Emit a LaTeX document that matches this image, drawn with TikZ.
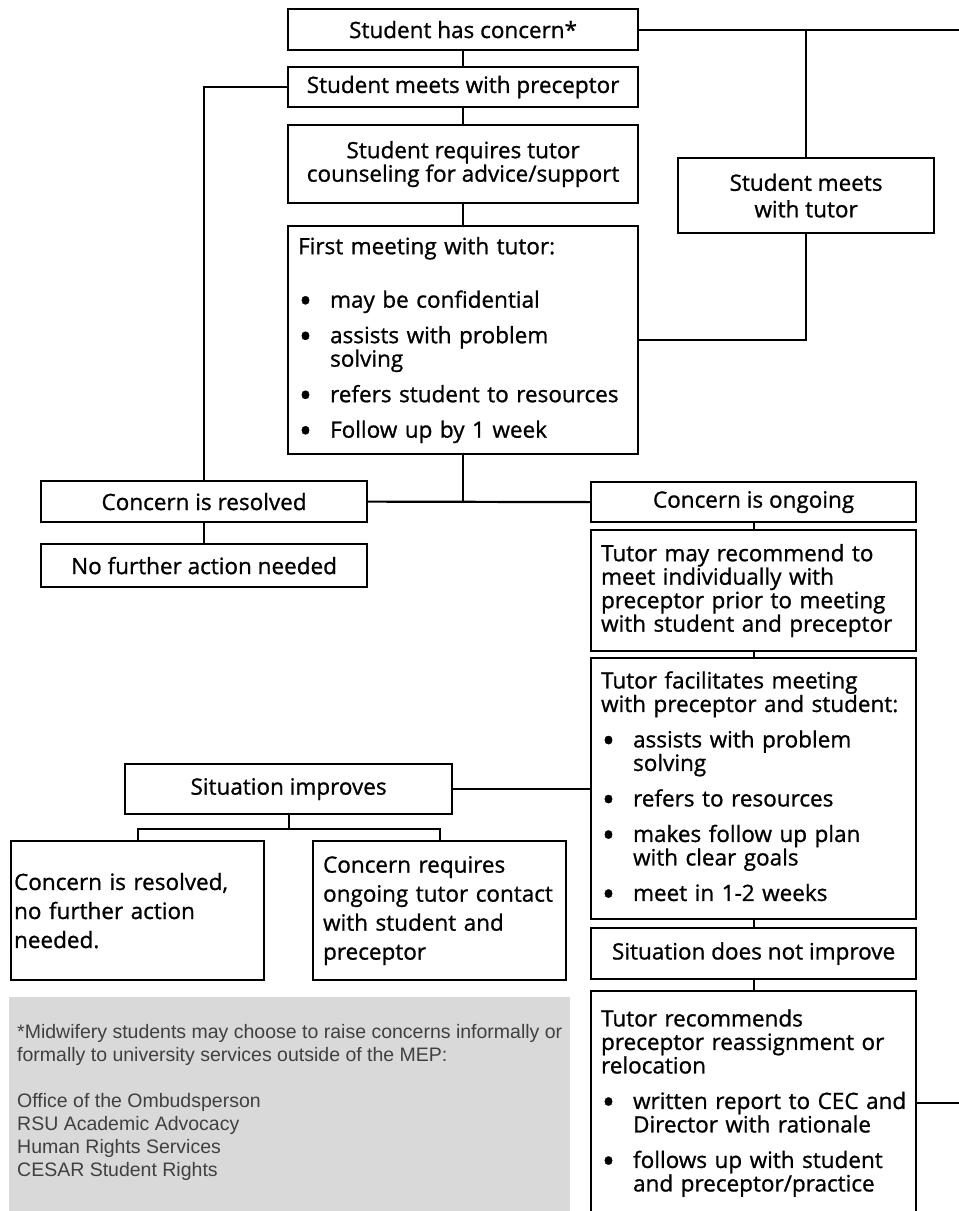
\documentclass[tikz,border=0pt]{standalone}
\usepackage{fontspec}
\setmainfont{Open Sans}[FakeBold=1]
\newfontfamily\notefont{Liberation Sans}
\usetikzlibrary{calc}
\definecolor{notegray}{RGB}{217,217,217}
\newcommand{\bul}[1]{\makebox[32pt][l]{\hspace{1pt}\raisebox{-5pt}{\fontsize{34}{34}\selectfont\textbullet}}\mbox{#1}}
\newcommand{\ind}[1]{\hspace*{32pt}\mbox{#1}}

\begin{document}
\begin{tikzpicture}[x=1pt,y=1pt,yscale=-1,
  font=\fontsize{22.5}{23.5}\selectfont,
  flowbox/.style={draw, line width=2.2pt, inner sep=0pt, align=center},
  leftbox/.style={draw, line width=2.2pt, inner xsep=10pt, inner ysep=0pt, align=left},
  wire/.style={line width=2.2pt},
  notetext/.style={font=\notefont\fontsize{19.5}{23}\selectfont, text=black!75, align=left, inner sep=0pt}]
\useasboundingbox (0,0) rectangle (959,1211);
\clip (0,0) rectangle (959,1211);
\coordinate (rightedge) at (959,0);

%Shape: footnote background
\fill[notegray] (9,997) rectangle (570,1240);
% Text Node
\node[notetext, anchor=north west] (note) at (17,1024) {*Midwifery students may choose to raise concerns informally or\\
formally to university services outside of the MEP:\\[23pt]
Office of the Ombudsperson\\
RSU Academic Advocacy\\
Human Rights Services\\
CESAR Student Rights};

% Boxes, centre column
\node[flowbox, minimum width=350pt, minimum height=41pt, anchor=north west] (concern) at (287,8) {Student has concern*};
\node[flowbox, minimum width=350pt, minimum height=40pt, anchor=north west] (prec) at (287,66) {Student meets with preceptor};
\node[flowbox, minimum width=350pt, minimum height=78pt, anchor=north west] (couns) at (287,124) {Student requires tutor\\counseling for advice/support};
\node[leftbox, text width=330pt, minimum height=228pt, anchor=north west] (first) at (287,225) {First meeting with tutor:\\[30pt]
\bul{may be confidential}\\[12pt]
\bul{assists with problem}\\
\ind{solving}\\[12pt]
\bul{refers student to resources}\\[12pt]
\bul{Follow up by 1 week}};
\node[flowbox, minimum width=256pt, minimum height=75pt, anchor=north west] (tutor) at (677,157) {Student meets\\[3pt]with tutor};

% Boxes, left
\node[flowbox, minimum width=326pt, minimum height=41pt, anchor=north west] (resolved) at (40,480) {Concern is resolved};
\node[flowbox, minimum width=326pt, minimum height=43pt, anchor=north west] (nofurther) at (40,543) {No further action needed};
\node[flowbox, minimum width=327pt, minimum height=50pt, anchor=north west] (improves) at (124,763) {Situation improves};
\node[leftbox, inner xsep=3pt, text width=247pt, minimum height=139pt, anchor=north west,
  font=\fontsize{22.5}{29}\selectfont] (closed) at (10,840) {Concern is resolved,\\
no further action\\
needed.};
\node[leftbox, text width=233pt, minimum height=139pt, anchor=north west,
  font=\fontsize{22.5}{29}\selectfont] (contact) at (312,840) {Concern requires\\
\mbox{ongoing tutor contact}\\
with student and\\
preceptor};

% Boxes, right
\node[flowbox, minimum width=325pt, minimum height=40pt, anchor=north west] (ongoing) at (590,481) {Concern is ongoing};
\node[leftbox, text width=305pt, minimum height=121pt, anchor=north west] (individual) at (590,529) {Tutor may recommend to\\
meet individually with\\
\mbox{preceptor prior to meeting}\\
\mbox{with student and preceptor}};
\node[leftbox, text width=305pt, minimum height=261pt, anchor=north west] (facil) at (590,657) {Tutor facilitates meeting\\
\mbox{with preceptor and student:}\\[12pt]
\bul{assists with problem}\\
\ind{solving}\\[12pt]
\bul{refers to resources}\\[12pt]
\bul{makes follow up plan}\\
\ind{with clear goals}\\[12pt]
\bul{meet in 1-2 weeks}};
\node[flowbox, minimum width=325pt, minimum height=51pt, anchor=north west] (noimprove) at (590,927) {Situation does not improve};
\node[leftbox, text width=305pt, minimum height=224pt, anchor=north west] (reassign) at (590,990) {Tutor recommends\\
\mbox{preceptor reassignment or}\\
relocation\\[12pt]
\bul{written report to CEC and}\\
\ind{Director with rationale}\\[12pt]
\bul{follows up with student}\\
\ind{and preceptor/practice}};

% Connection
\draw[wire] (concern.east) -- (concern.east -| rightedge);
\draw[wire] (tutor.north) -- (tutor.north |- concern.east);
\draw[wire] (tutor.south) |- (first.east);
\draw[wire] (concern) -- (prec);
\draw[wire] (prec) -- (couns);
\draw[wire] (couns) -- (first);
\draw[wire] (prec.west) -| (resolved.north);
\draw[wire] (resolved) -- (nofurther);
\draw[wire] (first.south) -- (first.south |- resolved.east);
\draw[wire] (resolved.east) -- (ongoing.west);
\draw[wire] (ongoing) -- (individual);
\draw[wire] (individual) -- (facil);
\draw[wire] (facil) -- (noimprove);
\draw[wire] (noimprove) -- (reassign);
\draw[wire] (facil.west) -- (improves.east -| facil.west) -- (improves.east);
\draw[wire] (improves.south) -- ++(0,14) coordinate (split) -| (closed.north);
\draw[wire] (split) -| (contact.north);
\draw[wire] (reassign.east) -- (reassign.east -| rightedge);

\end{tikzpicture}
\end{document}
